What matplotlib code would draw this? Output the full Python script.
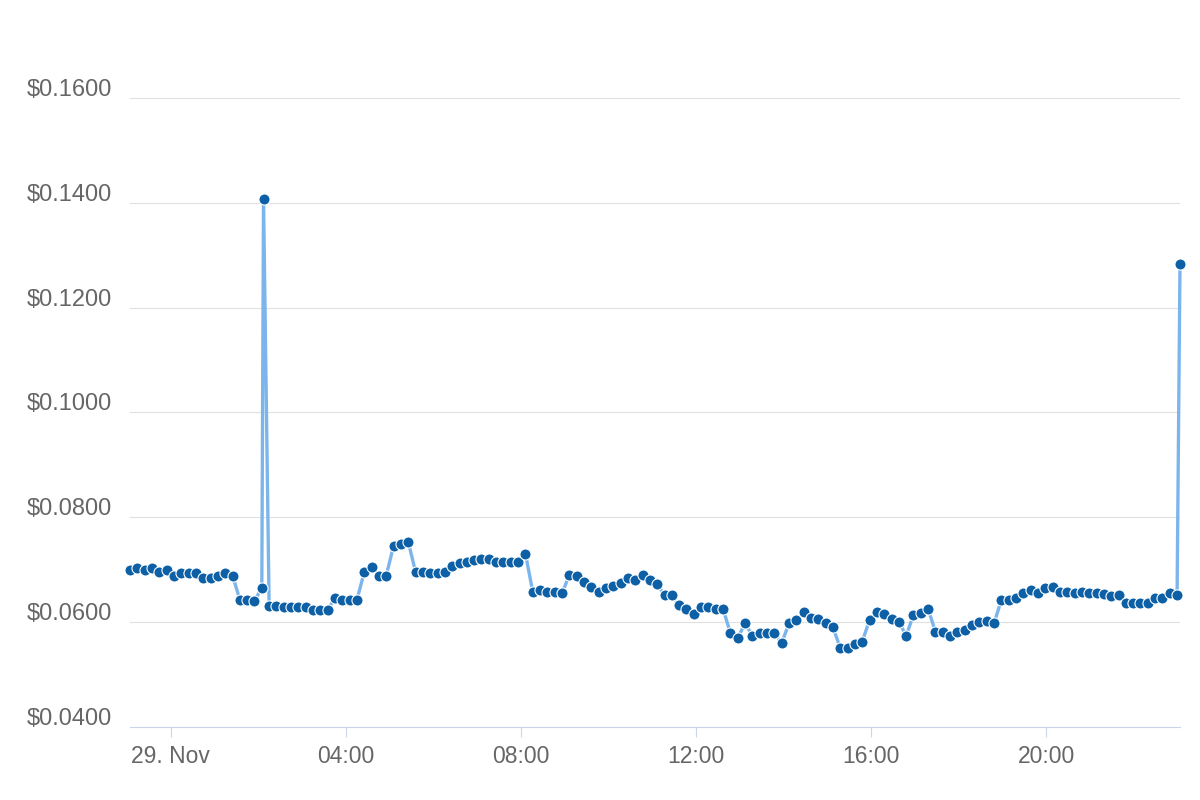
import pandas as pd
import numpy as np
import matplotlib
matplotlib.use('Agg')
import matplotlib.pyplot as plt
import matplotlib.dates as mdates
from matplotlib.ticker import FuncFormatter, FixedLocator
from matplotlib.transforms import ScaledTranslation

plt.rcParams['font.family'] = ['Liberation Sans', 'DejaVu Sans']

# regular samples, 28 Nov 23:04 -> 29 Nov 22:59 (144 points)
prices = [
    0.0700, 0.0704, 0.0700, 0.0704, 0.0696, 0.0700, 0.0689, 0.0693, 0.0693, 0.0693,
    0.0685, 0.0685, 0.0689, 0.0693, 0.0689, 0.0643, 0.0643, 0.0640, 0.0666, 0.0631,
    0.0631, 0.0628, 0.0628, 0.0628, 0.0628, 0.0623, 0.0623, 0.0623, 0.0647, 0.0643,
    0.0643, 0.0643, 0.0696, 0.0706, 0.0689, 0.0689, 0.0746, 0.0749, 0.0753, 0.0696,
    0.0696, 0.0693, 0.0693, 0.0696, 0.0707, 0.0712, 0.0715, 0.0719, 0.0720, 0.0720,
    0.0715, 0.0715, 0.0715, 0.0715, 0.0731, 0.0658, 0.0661, 0.0658, 0.0658, 0.0655,
    0.0690, 0.0689, 0.0677, 0.0668, 0.0658, 0.0665, 0.0669, 0.0674, 0.0685, 0.0681,
    0.0690, 0.0681, 0.0673, 0.0651, 0.0651, 0.0633, 0.0625, 0.0616, 0.0628, 0.0628,
    0.0625, 0.0625, 0.0579, 0.0570, 0.0598, 0.0574, 0.0579, 0.0579, 0.0579, 0.0560,
    0.0598, 0.0604, 0.0620, 0.0608, 0.0606, 0.0598, 0.0590, 0.0551, 0.0551, 0.0558,
    0.0563, 0.0604, 0.0620, 0.0615, 0.0606, 0.0601, 0.0574, 0.0614, 0.0617, 0.0625,
    0.0582, 0.0582, 0.0574, 0.0582, 0.0585, 0.0595, 0.0600, 0.0602, 0.0598, 0.0642,
    0.0642, 0.0646, 0.0656, 0.0661, 0.0656, 0.0665, 0.0667, 0.0658, 0.0658, 0.0655,
    0.0658, 0.0656, 0.0655, 0.0654, 0.0650, 0.0652, 0.0636, 0.0636, 0.0636, 0.0636,
    0.0646, 0.0646, 0.0655, 0.0651,
]
times = pd.date_range('2023-11-28 23:04', '2023-11-29 22:59', periods=len(prices))

# two odd readings between the regular samples
spike_times = pd.to_datetime(['2023-11-29 02:07', '2023-11-29 23:03'])
spike_prices = [0.1408, 0.1284]

s = pd.concat([pd.Series(prices, index=times),
               pd.Series(spike_prices, index=spike_times)]).sort_index()

yticks = [0.04, 0.06, 0.08, 0.10, 0.12, 0.14, 0.16]
xticks = pd.date_range('2023-11-29 00:00', '2023-11-29 20:00', freq='4h')

fig = plt.figure(figsize=(12, 8), dpi=100)
ax = fig.add_axes([130/1200, 1-727/800, 1050/1200, (727-98)/800])

ax.plot(s.index, s.values, color='#7cb5ec', lw=2.4, marker='o', ms=8,
        mfc='#0d60a6', mec='white', mew=0.8, clip_on=False, zorder=3)

ax.set_xlim(s.index[0], s.index[-1])
ax.set_ylim(0.04, 0.16)

ax.yaxis.set_major_locator(FixedLocator(yticks))
ax.yaxis.set_major_formatter(FuncFormatter(lambda v, p: '$%.4f' % v))
ax.xaxis.set_major_locator(FixedLocator(mdates.date2num(xticks)))
ax.xaxis.set_major_formatter(FuncFormatter(
    lambda v, p: '29. Nov' if mdates.num2date(v).hour == 0 else mdates.num2date(v).strftime('%H:%M')))

ax.yaxis.grid(True, color='#e0e0e0', lw=0.8)
ax.set_axisbelow(True)
for side in ['top', 'right', 'left']:
    ax.spines[side].set_visible(False)
ax.spines['bottom'].set_color('#ccd6eb')
ax.spines['bottom'].set_linewidth(0.8)

ax.tick_params(axis='y', length=0, pad=13, labelsize=17, labelcolor='#666666')
ax.tick_params(axis='x', length=7.2, width=0.8, color='#ccd6eb', pad=6,
               labelsize=16.5, labelcolor='#666666')

# y labels sit a little above their grid lines
offset = ScaledTranslation(0, 10.5/100, fig.dpi_scale_trans)
for lab in ax.get_yticklabels():
    lab.set_transform(lab.get_transform() + offset)

fig.savefig('out.png', dpi=100)
